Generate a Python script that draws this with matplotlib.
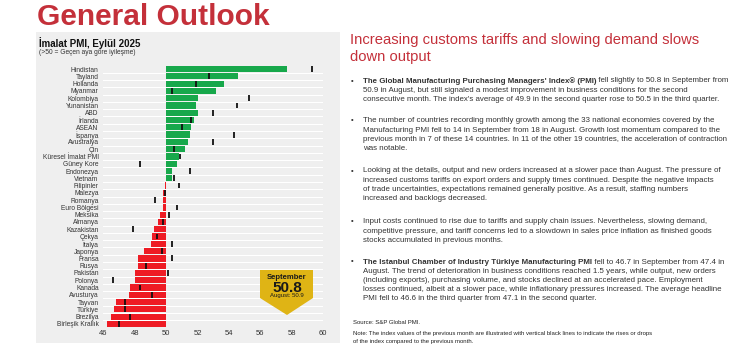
import matplotlib
matplotlib.use("Agg")
import matplotlib.pyplot as plt
from matplotlib.patches import Rectangle, Polygon

plt.rcParams["font.family"] = ["Liberation Sans", "DejaVu Sans"]

# ---- data ----
COUNTRIES = [
    "Hindistan", "Tayland", "Hollanda", "Myanmar", "Kolombiya", "Yunanistan",
    "ABD", "İrlanda", "ASEAN", "İspanya", "Avustralya", "Çin",
    "Küresel İmalat PMI", "Güney Kore", "Endonezya", "Vietnam", "Filipinler",
    "Malezya", "Romanya", "Euro Bölgesi", "Meksika", "Almanya", "Kazakistan",
    "Çekya", "İtalya", "Japonya", "Fransa", "Rusya", "Pakistan", "Polonya",
    "Kanada", "Avusturya", "Tayvan", "Türkiye", "Brezilya", "Birleşik Krallık",
]
SEPT = [57.7, 54.6, 53.7, 53.2, 52.0, 51.9, 52.0, 51.8, 51.6, 51.5, 51.4, 51.2,
        50.8, 50.7, 50.4, 50.4, 49.9, 49.8, 49.8, 49.8, 49.6, 49.5, 49.2, 49.1,
        49.0, 48.6, 48.2, 48.2, 48.0, 48.0, 47.7, 47.6, 46.8, 46.7, 46.5, 46.2]
AUG = [59.3, 52.7, 51.9, 50.4, 55.3, 54.5, 53.0, 51.6, 51.0, 54.3, 53.0, 50.5,
       50.9, 48.3, 51.5, 50.5, 50.8, 49.9, 49.3, 50.7, 50.2, 49.8, 47.9, 49.4,
       50.4, 49.7, 50.4, 48.7, 50.1, 46.6, 48.3, 49.1, 47.4, 47.4, 47.7, 47.0]
XTICKS = [46, 48, 50, 52, 54, 56, 58, 60]
GLOBAL_SEPT = 50.8
GLOBAL_AUG = 50.9

BULLETS = [
    [[("The Global Manufacturing Purchasing Managers' Index® (PMI)", True),
      (" fell slightly to 50.8 in September from", False)],
     "50.9 in August, but still signaled a modest improvement in business conditions for the second",
     "consecutive month. The index's average of 49.9 in the second quarter rose to 50.5 in the third quarter."],
    ["The number of countries recording monthly growth among the 33 national economies covered by the",
     "Manufacturing PMI fell to 14 in September from 18 in August. Growth lost momentum compared to the",
     "previous month in 7 of these 14 countries. In 11 of the other 19 countries, the acceleration of contraction",
     "was notable."],
    ["Looking at the details, output and new orders increased at a slower pace than August. The pressure of",
     "increased customs tariffs on export orders and supply times continued. Despite the negative impacts",
     "of trade uncertainties, expectations remained generally positive. As a result, staffing numbers",
     "increased and backlogs decreased."],
    ["Input costs continued to rise due to tariffs and supply chain issues. Nevertheless, slowing demand,",
     "competitive pressure, and tariff concerns led to a slowdown in sales price inflation as finished goods",
     "stocks accumulated in previous months."],
    [[("The Istanbul Chamber of Industry Türkiye Manufacturing PMI", True),
      (" fell to 46.7 in September from 47.4 in", False)],
     "August. The trend of deterioration in business conditions reached 1.5 years, while output, new orders",
     "(including exports), purchasing volume, and stocks declined at an accelerated pace. Employment",
     "losses continued, albeit at a slower pace, while inflationary pressures increased. The average headline",
     "PMI fell to 46.6 in the third quarter from 47.1 in the second quarter."],
]
BULLET_TOPS = [81, 121, 171, 222, 262]

RED = "#c4303a"
GREEN = "#17a84b"
BAR_RED = "#ee1b24"
PANEL = "#efefef"
GOLD = "#dfb415"
TXT = "#333333"

W, H = 740, 350


def fx(x):
    return x / W


def fy(y):
    return 1 - y / H


def rich_line(fig, renderer, x, y, parts, size):
    # place bold / regular pieces one after another
    for text, bold in parts:
        t = fig.text(fx(x), fy(y), text, fontsize=size, color=TXT, va="center",
                     fontweight="bold" if bold else "normal")
        x += t.get_window_extent(renderer).width


def main():
    fig = plt.figure(figsize=(W / 100, H / 100), dpi=100)
    fig.patch.set_facecolor("white")
    renderer = fig.canvas.get_renderer()

    # grey panel behind the chart
    fig.patches.append(Rectangle((fx(36), fy(343)), fx(340 - 36), (343 - 32) / H,
                                 transform=fig.transFigure, facecolor=PANEL,
                                 edgecolor="none", zorder=-5))

    fig.text(fx(37), fy(25), "General Outlook", fontsize=21.5, fontweight="bold",
             color=RED, va="baseline")
    fig.text(fx(39), fy(43), "İmalat PMI, Eylül 2025", fontsize=7,
             fontweight="bold", color="#111111", va="center")
    fig.text(fx(39), fy(53), "(>50 = Geçen aya göre iyileşme)", fontsize=4.8,
             color=TXT, va="center")

    n = len(COUNTRIES)
    ys = list(range(n))
    ax = fig.add_axes([fx(103.5), fy(327.6), fx(323 - 103.5), (327.6 - 65.4) / H])
    ax.set_zorder(2)
    ax.set_facecolor("none")
    for i in range(n - 1):
        ax.axhline(i + 0.5, color="white", lw=0.8, zorder=0)
    colors = [GREEN if v >= 50 else BAR_RED for v in SEPT]
    ax.barh(ys, [v - 50 for v in SEPT], left=50, height=0.85, color=colors, zorder=2)
    ax.vlines(AUG, [y - 0.4 for y in ys], [y + 0.4 for y in ys],
              color="#111111", lw=1.3, zorder=3)
    ax.set_xlim(46, 60)
    ax.set_ylim(n - 0.5, -0.5)
    ax.set_xticks(XTICKS)
    ax.set_yticks(ys)
    ax.set_yticklabels(COUNTRIES)
    ax.tick_params(axis="x", length=0, pad=1.5, labelsize=5.5, labelcolor=TXT)
    ax.tick_params(axis="y", length=0, pad=3.5, labelsize=4.8, labelcolor=TXT)
    for s in ax.spines.values():
        s.set_visible(False)

    # September badge
    pts = [(260, 270), (313, 270), (313, 298), (287, 315), (260, 298)]
    fig.patches.append(Polygon([(fx(a), fy(b)) for a, b in pts], closed=True,
                               transform=fig.transFigure, facecolor=GOLD,
                               edgecolor="none", zorder=5))
    fig.text(fx(287), fy(277.5), "September", fontsize=5.5, fontweight="bold",
             ha="center", va="center", color="#1a1a1a", zorder=6)
    fig.text(fx(287), fy(288), f"{GLOBAL_SEPT:.1f}", fontsize=11, fontweight="bold",
             ha="center", va="center", color="#1a1a1a", zorder=6)
    fig.text(fx(287), fy(296), f"August: {GLOBAL_AUG:.1f}", fontsize=4.3,
             ha="center", va="center", color="#1a1a1a", zorder=6)

    # right-hand text
    fig.text(fx(350), fy(40), "Increasing customs tariffs and slowing demand slows",
             fontsize=10.6, color=RED, va="center")
    fig.text(fx(350), fy(57), "down output", fontsize=10.6, color=RED, va="center")

    size = 5.7
    for top, lines in zip(BULLET_TOPS, BULLETS):
        fig.text(fx(351), fy(top), "•", fontsize=size, color=TXT, va="center")
        for k, line in enumerate(lines):
            y = top + k * 9.2
            if isinstance(line, list):
                rich_line(fig, renderer, 363, y, line, size)
            else:
                fig.text(fx(363), fy(y), line, fontsize=size, color=TXT, va="center")

    fig.text(fx(353), fy(322), "Source: S&P Global PMI.", fontsize=4.35, color="#222222",
             va="center")
    fig.text(fx(353), fy(333),
             "Note: The index values of the previous month are illustrated with vertical "
             "black lines to indicate the rises or drops", fontsize=4.35, color="#222222",
             va="center")
    fig.text(fx(353), fy(341), "of the index compared to the previous month.",
             fontsize=4.35, color="#222222", va="center")

    fig.savefig("out.png", dpi=100)
    plt.close(fig)


if __name__ == "__main__":
    main()
